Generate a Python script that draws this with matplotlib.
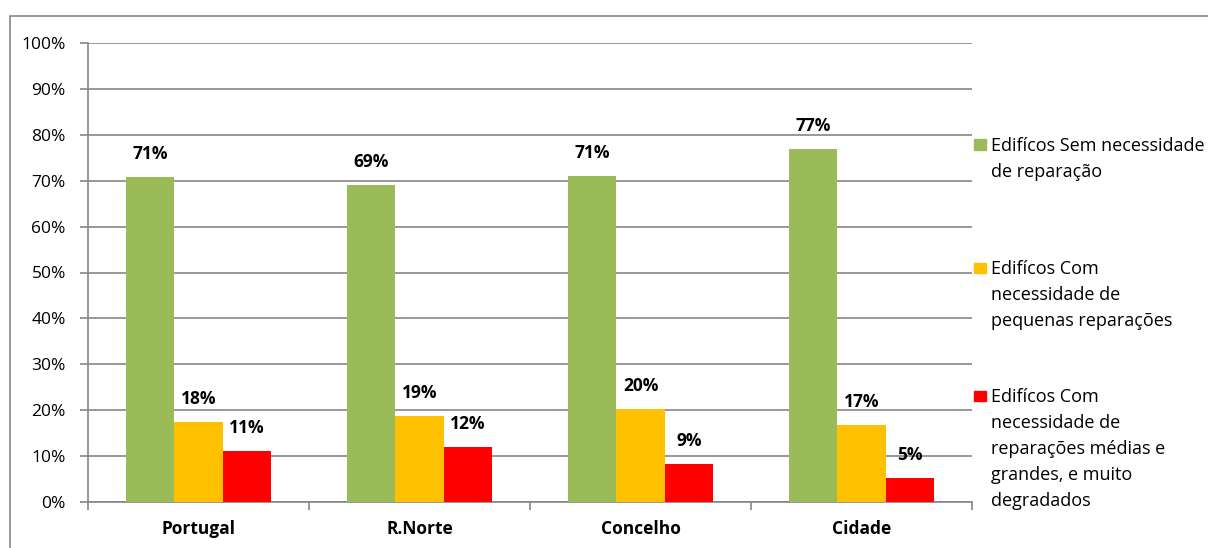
import matplotlib.pyplot as plt
import numpy as np
from matplotlib.patches import Rectangle

categories = ['Portugal', 'R.Norte', 'Concelho', 'Cidade']
sem_reparacao = [70.9, 69.1, 71.1, 76.9]
pequenas = [17.5, 18.7, 20.2, 16.8]
medias_grandes = [11.2, 12.0, 8.3, 5.3]
value_labels = [
    ['71%', '69%', '71%', '77%'],
    ['18%', '19%', '20%', '17%'],
    ['11%', '12%', '9%', '5%'],
]
series_names = [
    'Edifícos Sem necessidade\nde reparação',
    'Edifícos Com\nnecessidade de\npequenas reparações',
    'Edifícos Com\nnecessidade de\nreparações médias e\ngrandes, e muito\ndegradados',
]
colors = ['#9BBB59', '#FFC000', '#FF0000']

plt.rcParams['font.family'] = ['Open Sans', 'DejaVu Sans']
grey = '#868686'
fs = 12.5

fig = plt.figure(figsize=(12.08, 5.48), dpi=100)
ax = fig.add_axes([88 / 1208, 46 / 548, 884 / 1208, 459 / 548])

# outer chart frame
fig.patches.append(Rectangle((10 / 1208, -0.5), 2, (548 - 16) / 548 + 0.5,
                             transform=fig.transFigure, fill=False,
                             edgecolor=grey, linewidth=1.2))

x = np.arange(len(categories))
w = 0.22
all_series = [sem_reparacao, pequenas, medias_grandes]
for i, vals in enumerate(all_series):
    pos = x + (i - 1) * w
    ax.bar(pos, vals, width=w, color=colors[i], zorder=3)
    for px, v, lab in zip(pos, vals, value_labels[i]):
        ax.annotate(lab, (px, v), xytext=(0, 10), textcoords='offset points',
                    ha='center', va='bottom', fontsize=fs, fontweight='bold')

ax.set_xlim(-0.5, len(categories) - 0.5)
ax.set_ylim(0, 100)
ax.set_yticks(np.arange(0, 101, 10))
ax.set_yticklabels([f'{t}%' for t in range(0, 101, 10)], fontsize=fs)
ax.yaxis.grid(True, color=grey, linewidth=1.2, zorder=0)
ax.set_axisbelow(True)

ax.set_xticks(np.arange(-0.5, len(categories), 1))
ax.set_xticklabels([])
ax.set_xticks(x, minor=True)
ax.set_xticklabels(categories, minor=True, fontsize=fs, fontweight='bold')
ax.tick_params(axis='x', which='major', length=6, color=grey, width=1.2)
ax.tick_params(axis='x', which='minor', length=0, pad=13)
ax.tick_params(axis='y', length=6, color=grey, width=1.2, pad=10)

for s in ['top', 'right']:
    ax.spines[s].set_visible(False)
for s in ['left', 'bottom']:
    ax.spines[s].set_color(grey)
    ax.spines[s].set_linewidth(1.2)

# legend, handles aligned with first line of each entry
legend_y = [144.5, 268, 396]
for name, c, ly in zip(series_names, colors, legend_y):
    fig.patches.append(Rectangle((974 / 1208, (548 - ly - 5) / 548), 12 / 1208, 10 / 548,
                                 transform=fig.transFigure, color=c))
    fig.text(991 / 1208, (548 - ly + 7.5) / 548, name, ha='left', va='top',
             fontsize=13, linespacing=1.56)

fig.savefig('out.png', dpi=100)
